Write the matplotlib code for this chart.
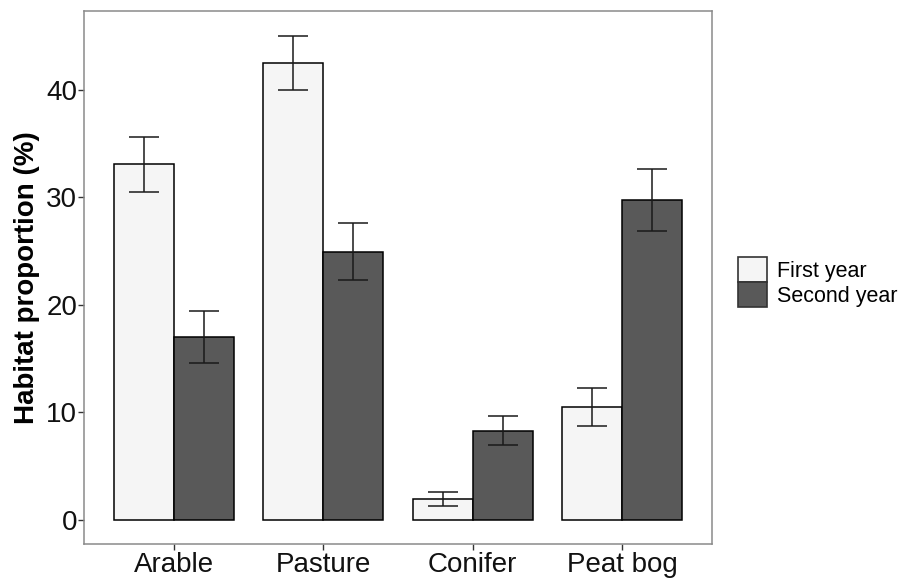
import matplotlib
matplotlib.use("Agg")
import matplotlib.pyplot as plt
import numpy as np
from matplotlib.patches import Patch

plt.rcParams['font.family'] = ['Liberation Sans', 'DejaVu Sans']

# Habitat use by year (mean proportion and standard error)
habitats = ["Arable", "Pasture", "Conifer", "Peat bog"]
series = ["First year", "Second year"]
first_year = [33.05, 42.5, 1.93, 10.5]
first_year_se = [2.55, 2.55, 0.62, 1.8]
second_year = [17.0, 24.95, 8.3, 29.75]
second_year_se = [2.4, 2.63, 1.35, 2.9]

colors = ["#F5F5F5", "#595959"]

fig = plt.figure(figsize=(8.99, 5.78), dpi=100)
ax = fig.add_axes([0.0934, 0.0588, 0.6986, 0.9227])

x = np.arange(len(habitats))
w = 0.4
for i, (vals, errs) in enumerate([(first_year, first_year_se), (second_year, second_year_se)]):
    pos = x + (i - 0.5) * w
    ax.bar(pos, vals, width=w, color=colors[i], edgecolor="black", linewidth=1.1,
           label=series[i], zorder=2)
    ax.errorbar(pos, vals, yerr=errs, fmt="none", ecolor="#1a1a1a", elinewidth=1.1,
                capsize=10.8, capthick=1.1, zorder=3)

ax.set_xlim(-0.6, 3.6)
ax.set_ylim(-2.26, 47.36)
ax.set_xticks(x)
ax.set_xticklabels(habitats)
ax.set_yticks([0, 10, 20, 30, 40])

for s in ax.spines.values():
    s.set_color("#8a8a8a")
    s.set_linewidth(1.1)

ax.tick_params(axis="both", colors="#333333", labelcolor="#111111", labelsize=20,
               length=4, width=1.0)
ax.tick_params(axis="y", pad=1)
ax.tick_params(axis="x", pad=2)

ax.set_ylabel("Habitat proportion (%)", fontsize=20, fontweight="bold", labelpad=4)

handles = [Patch(facecolor=colors[i], edgecolor="#333333", linewidth=1.2, label=series[i])
           for i in range(2)]
fig.legend(handles=handles, loc="center left", bbox_to_anchor=(0.821, 0.512),
           frameon=False, fontsize=15.5, handlelength=1.35, handleheight=1.4,
           handletextpad=0.45, labelspacing=0.0, borderaxespad=0, borderpad=0)

fig.savefig("out.png", dpi=100)
